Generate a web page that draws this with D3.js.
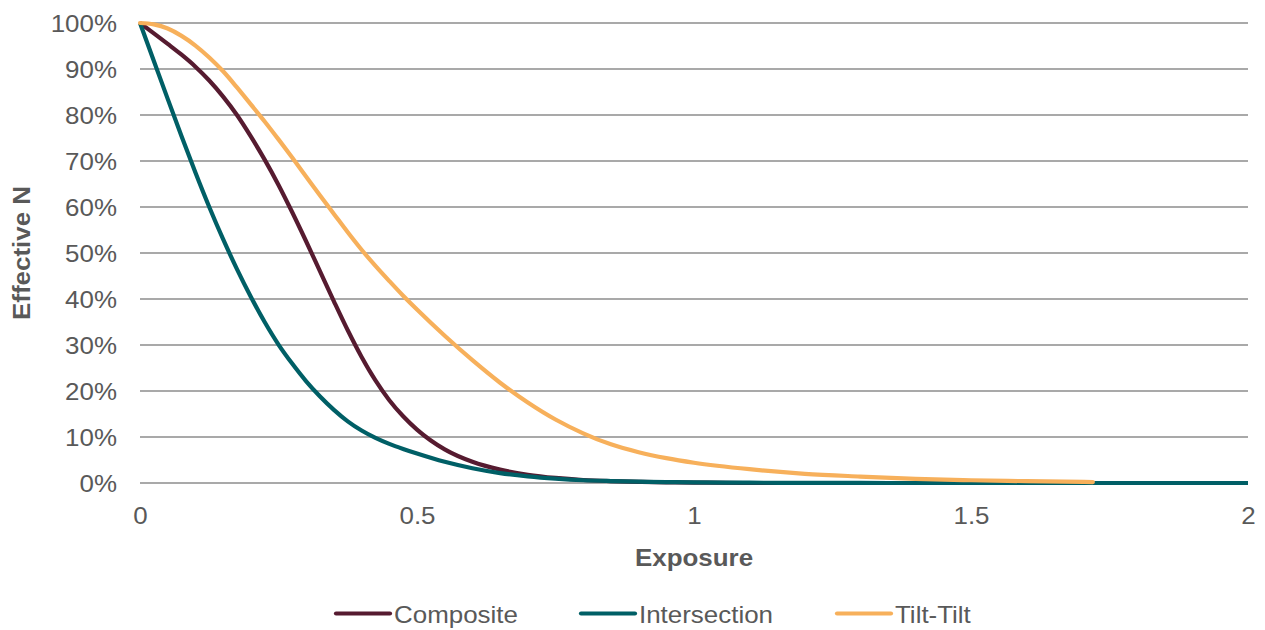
<!DOCTYPE html>
<html><head><meta charset="utf-8">
<script src="https://cdn.jsdelivr.net/npm/d3@7"></script>
<style>
html,body{margin:0;padding:0;background:#fff;}
svg{display:block;font-family:"Liberation Sans",Arial,sans-serif;}
</style></head>
<body><svg id="chart" width="1265" height="630"></svg>
<script>
const exposure = [0, 0.025, 0.05, 0.075, 0.1, 0.125, 0.15, 0.175, 0.2, 0.225, 0.25, 0.275, 0.3, 0.325, 0.35, 0.375, 0.4, 0.425, 0.45, 0.475, 0.5, 0.55, 0.6, 0.65, 0.7, 0.75, 0.8, 0.85, 0.9, 0.95, 1.0, 1.1, 1.2, 1.3, 1.4, 1.5, 1.6, 1.72, 1.8, 1.9, 2.0];
const composite = [1, 0.9775, 0.9545, 0.931, 0.905, 0.875, 0.84, 0.8, 0.7535, 0.703, 0.648, 0.588, 0.525, 0.46, 0.395, 0.332, 0.274, 0.223, 0.18, 0.145, 0.116, 0.073, 0.046, 0.029, 0.018, 0.011, 0.0065, 0.004, 0.0025, 0.0015, 0.001, 0, 0, 0, 0, 0, 0, 0, 0, 0, 0];
const intersection = [1, 0.9175, 0.835, 0.754, 0.675, 0.6, 0.53, 0.465, 0.405, 0.35, 0.301, 0.259, 0.221, 0.188, 0.159, 0.134, 0.114, 0.098, 0.085, 0.074, 0.064, 0.046, 0.032, 0.0215, 0.0145, 0.0095, 0.006, 0.0042, 0.003, 0.002, 0.0015, 0.0007, 0.0003, 0.0001, 0, 0, 0, 0, 0, 0, 0];
const tiltTilt = [1, 0.997, 0.988, 0.972, 0.951, 0.925, 0.895, 0.86, 0.823, 0.786, 0.747, 0.707, 0.666, 0.625, 0.585, 0.545, 0.507, 0.472, 0.439, 0.407, 0.377, 0.32, 0.267, 0.218, 0.175, 0.138, 0.108, 0.084, 0.067, 0.054, 0.044, 0.03, 0.02, 0.014, 0.009, 0.006, 0.004, 0.002, null, null, null];
const seriesNames = ["Composite", "Intersection", "Tilt-Tilt"];
const seriesColors = ["#561B30", "#005F66", "#F7B05B"];
const yTicks = [0, 0.1, 0.2, 0.3, 0.4, 0.5, 0.6, 0.7, 0.8, 0.9, 1.0];
const xTicks = [0, 0.5, 1, 1.5, 2];

const svg = d3.select("#chart");
const x = d3.scaleLinear().domain([0, 2]).range([140, 1248]);
const y = d3.scaleLinear().domain([0, 1]).range([483, 23]);
const txt = "#595959";
const FS = 24;

// gridlines
svg.append("g").selectAll("line").data(yTicks).join("line")
  .attr("x1", x(0)).attr("x2", x(2))
  .attr("y1", d => y(d)).attr("y2", d => y(d))
  .attr("stroke", "#8c8c8c").attr("stroke-width", 1.3);

// y axis labels
const yAxis = d3.axisLeft(y).tickValues(yTicks).tickFormat(d3.format(".0%")).tickSize(0).tickPadding(0);
const gy = svg.append("g").attr("transform", `translate(${x(0) - 23},0)`).call(yAxis);
gy.select(".domain").remove();
gy.selectAll("text").attr("font-size", FS).attr("fill", txt).attr("dy", "0.35em")
  .attr("font-family", "Liberation Sans, Arial, sans-serif");

// x axis labels
const xAxis = d3.axisBottom(x).tickValues(xTicks).tickFormat(d => String(d)).tickSize(0).tickPadding(0);
const gx = svg.append("g").attr("transform", `translate(0,${y(0) + 24})`).call(xAxis);
gx.select(".domain").remove();
gx.selectAll("text").attr("font-size", FS).attr("fill", txt).attr("dy", "0.71em")
  .attr("font-family", "Liberation Sans, Arial, sans-serif");

// axis titles
svg.append("text").attr("x", (x(0) + x(2)) / 2).attr("y", 566).attr("text-anchor", "middle")
  .attr("font-size", FS).attr("font-weight", "bold").attr("fill", txt).text("Exposure");
svg.append("text").attr("transform", `translate(30,${(y(0) + y(1)) / 2}) rotate(-90)`)
  .attr("text-anchor", "middle").attr("font-size", FS).attr("font-weight", "bold").attr("fill", txt).text("Effective N");

// lines
const allSeries = [composite, intersection, tiltTilt];
const line = d3.line().defined(d => d[1] !== null).x(d => x(d[0])).y(d => y(d[1])).curve(d3.curveMonotoneX);
allSeries.forEach((vals, i) => {
  const pts = exposure.map((e, j) => [e, vals[j]]);
  svg.append("path").datum(pts).attr("d", line).attr("fill", "none")
    .attr("stroke", seriesColors[i]).attr("stroke-width", 4.2).attr("stroke-linejoin", "round")
    .attr("stroke-linecap", i === 2 ? "round" : "butt");
});

// legend
const legendX = [336, 581, 837];
const lg = svg.append("g");
seriesNames.forEach((n, i) => {
  lg.append("line").attr("x1", legendX[i]).attr("x2", legendX[i] + 54).attr("y1", 613.5).attr("y2", 613.5)
    .attr("stroke", seriesColors[i]).attr("stroke-width", 4.2).attr("stroke-linecap", "round");
  lg.append("text").attr("x", legendX[i] + 58).attr("y", 623)
    .attr("font-size", FS).attr("fill", txt).text(n);
});

// slight horizontal stretch of text, as in the reference rendering
svg.selectAll("text").each(function () {
  const w = this.getComputedTextLength();
  d3.select(this).attr("textLength", w * 1.08).attr("lengthAdjust", "spacingAndGlyphs");
});
</script></body></html>
